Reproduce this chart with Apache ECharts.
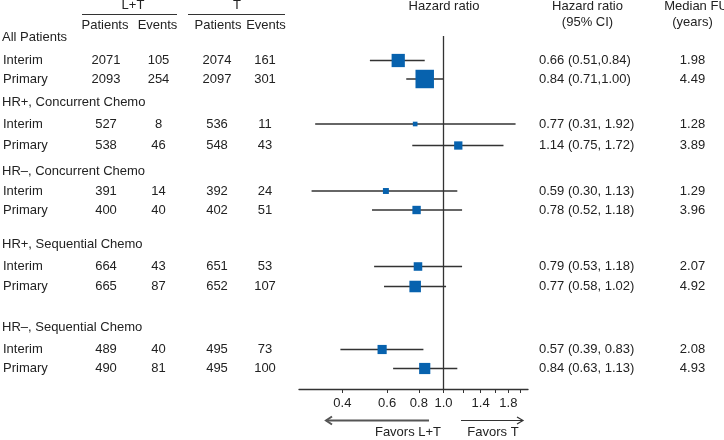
<!DOCTYPE html>
<html><head><meta charset="utf-8">
<script src="https://cdn.jsdelivr.net/npm/echarts@6/dist/echarts.min.js"></script>
<style>html,body{margin:0;padding:0;background:#fff}#c{width:724px;height:440px}</style>
</head><body><div id="c"></div>
<script>
// ---- data ----
const groups = ['All Patients', 'HR+, Concurrent Chemo', 'HR–, Concurrent Chemo', 'HR+, Sequential Chemo', 'HR–, Sequential Chemo'];
const rowLabels = ['Interim', 'Primary'];
const ltPatients = [[2071, 2093], [527, 538], [391, 400], [664, 665], [489, 490]];
const ltEvents   = [[105, 254], [8, 46], [14, 40], [43, 87], [40, 81]];
const tPatients  = [[2074, 2097], [536, 548], [392, 402], [651, 652], [495, 495]];
const tEvents    = [[161, 301], [11, 43], [24, 51], [53, 107], [73, 100]];
const hazard     = [[0.66, 0.84], [0.77, 1.14], [0.59, 0.78], [0.79, 0.77], [0.57, 0.84]];
const ciLow      = [[0.51, 0.71], [0.31, 0.75], [0.30, 0.52], [0.53, 0.58], [0.39, 0.63]];
const ciHigh     = [[0.84, 1.00], [1.92, 1.72], [1.13, 1.18], [1.18, 1.02], [0.83, 1.13]];
const medianFU   = [[1.98, 4.49], [1.28, 3.89], [1.29, 3.96], [2.07, 4.92], [2.08, 4.93]];
const tickValues  = [0.4, 0.6, 0.8, 1.0, 1.2, 1.4, 1.6, 1.8, 2.0];
const labelValues = [0.4, 0.6, 0.8, 1.0, 1.4, 1.8];
const xMin = 0.27, xMax = 2.15;

// ---- layout ----
const rowTop = [60.5, 124, 191, 266.5, 349.5];
const rowGap = [18.5, 21.5, 19, 20, 19];
const headerY = [37, 102, 171, 244, 327];
const gLeft = 299, gRight = 724 - 528;
const FONT = "'Liberation Sans', Arial, Helvetica, sans-serif";
const TXT = '#222';
const LINE = '#333';
const BLUE = '#0762ae';

function hrText(g, i) {
  const sep = g === 0 ? ',' : ', ';
  return hazard[g][i].toFixed(2) + ' (' + ciLow[g][i].toFixed(2) + sep + ciHigh[g][i].toFixed(2) + ')';
}

const grid = [], xAxis = [], yAxis = [], series = [];
groups.forEach((gname, g) => {
  grid.push({ left: gLeft, right: gRight, top: rowTop[g], height: rowGap[g] });
  xAxis.push({ type: 'log', min: xMin, max: xMax, gridIndex: g, show: false });
  yAxis.push({
    type: 'category', data: rowLabels, inverse: true, boundaryGap: false, gridIndex: g,
    axisLine: { show: false }, axisTick: { show: false }, splitLine: { show: false },
    axisLabel: {
      align: 'left', margin: gLeft - 2, color: TXT, fontFamily: FONT, fontSize: 13,
      formatter: (v, i) => '{n|' + v + '}{a|' + ltPatients[g][i] + '}{b|' + ltEvents[g][i] + '}{c|' + tPatients[g][i] + '}{d|' + tEvents[g][i] + '}',
      rich: {
        n: { width: 80, align: 'left', fontFamily: FONT, fontSize: 13, color: TXT },
        a: { width: 46, align: 'center', fontFamily: FONT, fontSize: 13, color: TXT },
        b: { width: 59, align: 'center', fontFamily: FONT, fontSize: 13, color: TXT },
        c: { width: 58, align: 'center', fontFamily: FONT, fontSize: 13, color: TXT },
        d: { width: 38, align: 'center', fontFamily: FONT, fontSize: 13, color: TXT }
      }
    }
  });
  yAxis.push({
    type: 'category', data: rowLabels, inverse: true, boundaryGap: false, gridIndex: g, position: 'right',
    axisLine: { show: false }, axisTick: { show: false }, splitLine: { show: false },
    axisLabel: {
      align: 'left', margin: 539 - 528, color: TXT, fontFamily: FONT, fontSize: 13,
      formatter: (v, i) => '{h|' + hrText(g, i) + '}{f|' + medianFU[g][i].toFixed(2) + '}',
      rich: {
        h: { width: 133.5, align: 'left', fontFamily: FONT, fontSize: 13, color: TXT },
        f: { width: 40, align: 'center', fontFamily: FONT, fontSize: 13, color: TXT }
      }
    }
  });
  const ciData = rowLabels.map((r, i) => [ciLow[g][i], ciHigh[g][i], r]);
  series.push({
    type: 'custom', xAxisIndex: g, yAxisIndex: 2 * g, z: 3, silent: true,
    data: ciData, encode: { x: [0, 1], y: 2 },
    renderItem: (params, api) => {
      const p1 = api.coord([api.value(0), api.value(2)]);
      const p2 = api.coord([api.value(1), api.value(2)]);
      return { type: 'line', shape: { x1: p1[0], y1: p1[1], x2: p2[0], y2: p2[1] },
        style: { stroke: LINE, lineWidth: 1.5 } };
    }
  });
  series.push({
    type: 'scatter', xAxisIndex: g, yAxisIndex: 2 * g, z: 4, silent: true,
    symbol: 'rect',
    symbolSize: (val, p) => 0.72 * Math.sqrt(ltEvents[g][p.dataIndex] + tEvents[g][p.dataIndex]) + 1.5,
    itemStyle: { color: BLUE, opacity: 1 },
    data: rowLabels.map((r, i) => [hazard[g][i], r])
  });
});

// overlay grid: full-height axis and reference line at 1.0
const ov = groups.length;
grid.push({ left: gLeft, right: gRight, top: 36, bottom: 440 - 389 });
xAxis.push({
  type: 'log', min: xMin, max: xMax, gridIndex: ov,
  axisLine: { show: true, lineStyle: { color: LINE, width: 1.3 } },
  axisTick: { show: true, length: 4, customValues: tickValues, lineStyle: { color: LINE, width: 1 } },
  splitLine: { show: false }, minorTick: { show: false },
  axisLabel: { customValues: labelValues, margin: 8, color: TXT, fontFamily: FONT, fontSize: 13,
    formatter: v => Number(v).toFixed(1) }
});
yAxis.push({ type: 'value', min: 0, max: 1, gridIndex: ov, show: false });
series.push({
  type: 'line', xAxisIndex: ov, yAxisIndex: yAxis.length - 1, data: [], silent: true,
  markLine: { symbol: 'none', silent: true, label: { show: false },
    lineStyle: { color: LINE, width: 1.3, type: 'solid' }, data: [{ xAxis: 1 }] }
});

// text / annotation graphics
const T = (text, x, y, align) => ({ type: 'text', x, y, style: { text, x: 0, y: 0, fill: TXT,
  font: '13px ' + FONT, textAlign: align || 'center', textVerticalAlign: 'middle' } });
const graphic = [];
groups.forEach((gname, g) => graphic.push(T(gname, 2, headerY[g], 'left')));
graphic.push(T('L+T', 133, 5), T('T', 237, 5));
graphic.push(T('Patients', 105, 25), T('Events', 157.5, 25), T('Patients', 218, 25), T('Events', 266, 25));
graphic.push(T('Hazard ratio', 444, 6), T('Hazard ratio', 587.5, 6), T('(95% CI)', 587.5, 22),
  T('Median FU', 696, 6), T('(years)', 692.5, 22));
graphic.push(T('Favors L+T', 408, 432), T('Favors T', 493, 432));
const L = (x1, y1, x2, y2, w, c) => ({ type: 'line', shape: { x1, y1, x2, y2 }, style: { stroke: c || LINE, lineWidth: w } });
const P = (pts, w, c) => ({ type: 'polyline', shape: { points: pts }, style: { stroke: c || LINE, lineWidth: w, fill: null } });
graphic.push(L(82, 14.5, 177, 14.5, 1), L(188, 14.5, 285, 14.5, 1));
graphic.push(L(326, 420.5, 429, 420.5, 2, '#555'), P([[332, 416.5], [326, 420.5], [332, 424.5]], 2, '#555'));
graphic.push(L(461, 420.5, 523, 420.5, 1.2), P([[517, 417], [523, 420.5], [517, 424]], 1.2));

const chart = echarts.init(document.getElementById('c'), null, { renderer: 'canvas' });
chart.setOption({ animation: false, backgroundColor: '#fff', textStyle: { fontFamily: FONT },
  grid, xAxis, yAxis, series, graphic });
</script></body></html>
